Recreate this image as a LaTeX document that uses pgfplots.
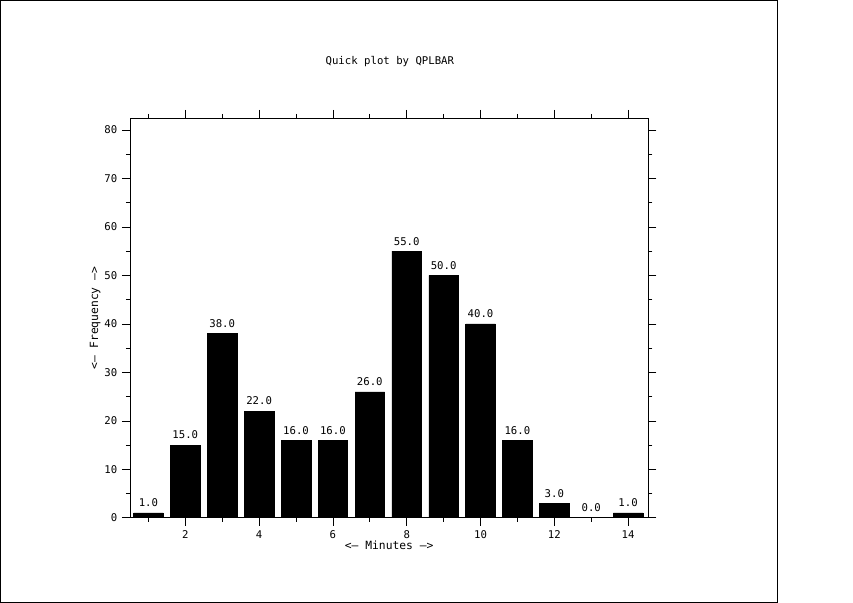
\documentclass[border=0pt]{standalone}
\usepackage{pgfplots}
\pgfplotsset{compat=1.18}
\usepackage{fontspec}
\setmainfont{DejaVu Sans Mono}
\begin{document}
\begin{tikzpicture}[x=1pt,y=1pt]
\path (0,0) rectangle (640,452.25);
\draw[line width=0.6pt] (0.4,0.4) rectangle (583.5,451.8);
\node[font=\fontsize{8}{9}\selectfont] at (292.5,406) {Quick plot by QPLBAR};
\begin{axis}[at={(97.5pt,63.75pt)}, anchor=origin,
  scale only axis, width=389pt, height=300pt,
  xmin=0.5, xmax=14.55, ymin=0, ymax=82.5,
  xtick={2,4,...,14}, minor xtick={1,3,...,13},
  ytick={0,10,...,80}, minor ytick={5,15,...,85},
  tick align=outside, tick pos=both,
  major tick length=6pt, minor tick length=3pt,
  every tick/.style={black, line width=0.5pt},
  axis line style={line width=0.6pt},
  /pgf/number format/assume math mode=true,
  tick label style={font=\fontsize{8}{9}\selectfont},
  xlabel={<-- Minutes -->}, ylabel={<-- Frequency -->},
  label style={font=\fontsize{8.5}{9}\selectfont},
  xlabel style={yshift=5pt}, ylabel style={yshift=-4pt},
  ybar, bar width=0.8, bar shift=0pt,
  nodes near coords,
  nodes near coords style={font=\fontsize{8}{9}\selectfont, /pgf/number format/fixed, /pgf/number format/fixed zerofill, /pgf/number format/precision=1, /pgf/number format/assume math mode=true, yshift=1pt},
]
\addplot[fill=black, draw=black] coordinates {(1,1) (2,15) (3,38) (4,22) (5,16) (6,16) (7,26) (8,55) (9,50) (10,40) (11,16) (12,3) (13,0) (14,1)};
\end{axis}
\end{tikzpicture}
\end{document}
